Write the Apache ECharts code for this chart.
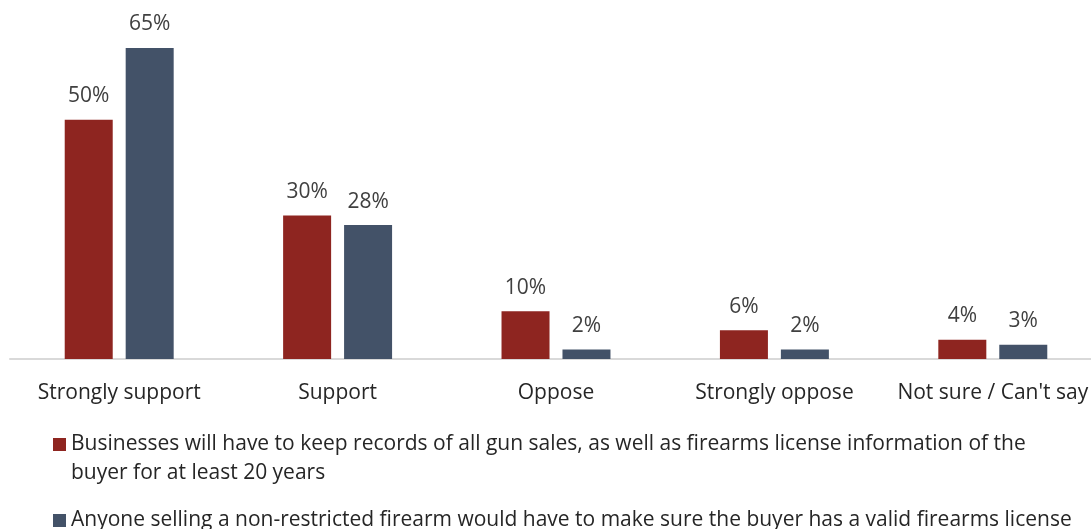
<!DOCTYPE html>
<html>
<head>
<meta charset="utf-8">
<style>
  html, body { margin: 0; padding: 0; background: #ffffff; overflow: hidden; }
  /* the plot runs slightly past the right edge of the window */
  #chart { width: 1102px; height: 529px; }
</style>
<script src="https://cdn.jsdelivr.net/npm/echarts@6/dist/echarts.min.js"></script>
</head>
<body>
<div id="chart"></div>
<script>
// Survey response categories
const categories = ['Strongly support', 'Support', 'Oppose', 'Strongly oppose', "Not sure / Can't say"];

// Series names (legend text)
const recordsName = 'Businesses will have to keep records of all gun sales, as well as firearms license information of the\nbuyer for at least 20 years';
const licenseName = 'Anyone selling a non-restricted firearm would have to make sure the buyer has a valid firearms license';

// Share of respondents (%)
const recordsValues = [50, 30, 10, 6, 4];
const licenseValues = [65, 28, 2, 2, 3];

const FONT = '"Open Sans", "Noto Sans", sans-serif';

const chart = echarts.init(document.getElementById('chart'), null, { renderer: 'canvas' });

const labelStyle = {
  show: true,
  position: 'top',
  distance: 13,
  formatter: '{c}%',
  fontFamily: FONT,
  fontSize: 21,
  color: '#404040'
};

chart.setOption({
  animation: false,
  backgroundColor: '#ffffff',
  grid: { left: 10, right: 0, top: 48, bottom: 170, containLabel: false },
  xAxis: {
    type: 'category',
    data: categories,
    axisLine: { show: true, lineStyle: { color: '#d9d9d9', width: 2 } },
    axisTick: { show: false },
    axisLabel: {
      interval: 0,
      margin: 24,
      fontFamily: FONT,
      fontSize: 21,
      color: '#262626'
    }
  },
  yAxis: {
    type: 'value',
    min: 0,
    max: 65,
    show: false,
    splitLine: { show: false }
  },
  legend: {
    orient: 'vertical',
    left: 53,
    top: 401,
    padding: 0,
    itemWidth: 13,
    itemHeight: 13,
    itemGap: 18,
    icon: 'rect',
    data: [
      { name: recordsName },
      { name: licenseName }
    ],
    formatter: function (name) {
      // leading blank line keeps the swatch level with the first text line
      return name.indexOf('\n') >= 0 ? '\n' + name : name;
    },
    textStyle: {
      fontFamily: FONT,
      fontSize: 21,
      lineHeight: 29,
      color: '#262626'
    }
  },
  series: [
    {
      name: recordsName,
      type: 'bar',
      data: recordsValues,
      barWidth: 48,
      barGap: '27%',
      itemStyle: { color: '#8e2520' },
      label: labelStyle
    },
    {
      name: licenseName,
      type: 'bar',
      data: licenseValues,
      barWidth: 48,
      barGap: '27%',
      itemStyle: { color: '#435268' },
      label: labelStyle
    }
  ]
});
</script>
</body>
</html>
